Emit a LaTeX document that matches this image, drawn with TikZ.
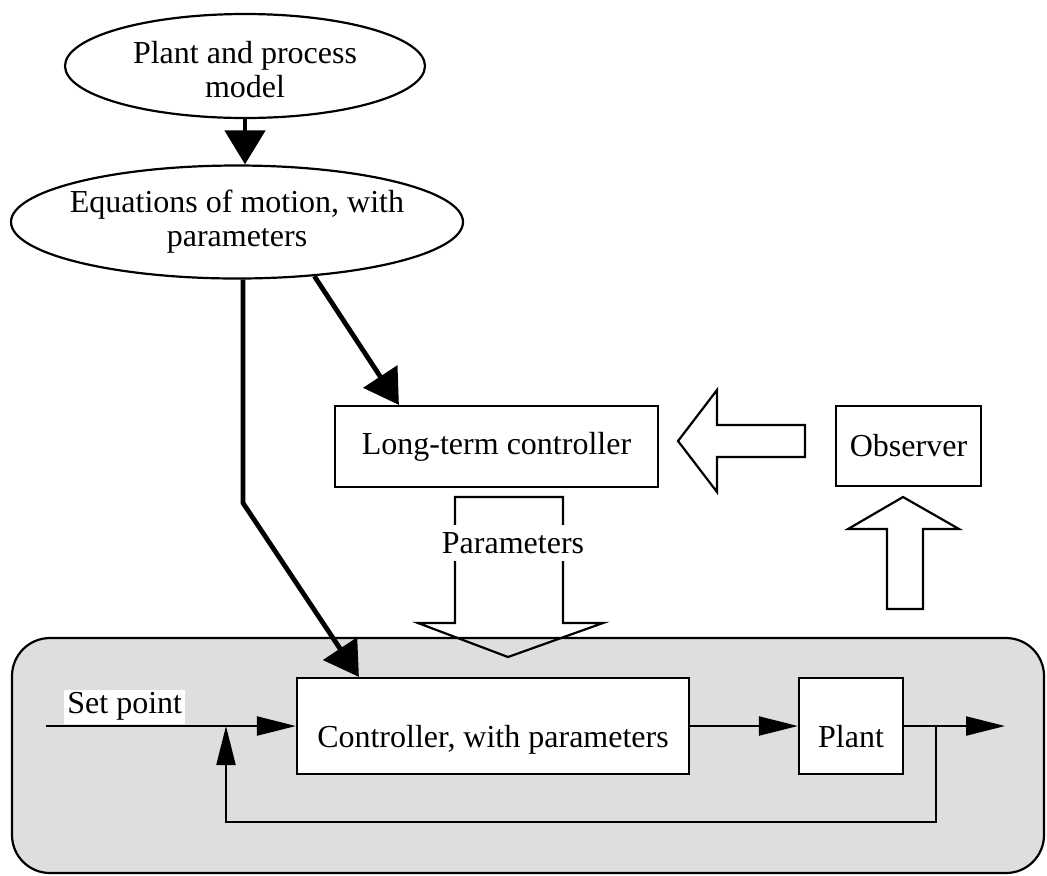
\documentclass[tikz,border=0pt]{standalone}
\usepackage{fontspec}
\setmainfont{Liberation Serif}
\usetikzlibrary{shapes.geometric,arrows.meta}

\definecolor{loopgrey}{HTML}{DEDEDE}

\begin{document}
\begin{tikzpicture}[x=0.5pt,y=-0.5pt,
    font=\fontsize{16}{17}\selectfont,
    block/.style={rectangle, draw, line width=1.1pt, fill=white, inner sep=0pt},
    lowblock/.style={block, text height=24pt, text depth=3pt},
    bubble/.style={ellipse, draw, line width=1.1pt, fill=white, inner sep=0pt},
    heavy/.style={line width=2.4pt, -{Triangle[length=17pt,width=20pt]}},
    signal/.style={line width=1.1pt, -{Triangle[length=19.5pt,width=9.5pt]}},
    hollow/.style={draw, line width=1.1pt, line join=miter}]
    \useasboundingbox (0,0) rectangle (1047,875);

    % Grey loop region
    \draw[fill=loopgrey, line width=1.1pt, rounded corners=19pt] (12,638) rectangle (1044,873);

    % Model ellipses
    \node[bubble, minimum width=180pt, minimum height=52pt,
          label={[align=center, yshift=-2pt]center:Plant and process\\model}] (model) at (245,66) {};
    \node[bubble, minimum width=226pt, minimum height=56.5pt,
          label={[align=center]center:Equations of motion, with\\parameters}] (eqns) at (237,222) {};

    % Boxes
    \node[block, minimum width=161.5pt, minimum height=40.5pt] (lt) at (496.5,446.5) {Long-term controller};
    \node[block, minimum width=72.5pt, minimum height=40pt] (obs) at (908.5,446) {Observer};
    \node[lowblock, minimum width=196pt, minimum height=48pt] (ctrl) at (493,726) {Controller, with parameters};
    \node[lowblock, minimum width=52pt, minimum height=48pt] (plant) at (851,726) {Plant};

    % Hollow arrows
    \draw[hollow] (678,441) -- (717,390) -- (717,425) -- (805,425) -- (805,457) -- (717,457) -- (717,492) -- cycle;
    \draw[hollow] (903,497) -- (959,529) -- (923,529) -- (923,609) -- (887,609) -- (887,529) -- (848,529) -- cycle;
    \draw[hollow] (508,657) -- (418,623) -- (455,623) -- (455,497) -- (563,497) -- (563,623) -- (603,623) -- cycle;
    \node[fill=white, inner sep=3.5pt] (params) at (513,543) {Parameters};

    % Heavy arrows from the model
    \coordinate (knee) at (243,503);
    \draw[heavy] (model.south) -- (model.south |- eqns.north);
    \draw[heavy] (eqns.south -| knee) -- (knee) -- ([xshift=31.5pt]ctrl.north west);
    \draw[heavy] (eqns.-35) -- ([xshift=32.5pt]lt.north west);

    % Control loop
    \coordinate (sp) at (46,726);
    \coordinate (out) at (1005,726);
    \coordinate (tap) at (936,726);
    \coordinate (sum) at (226,726);
    \node[fill=white, inner sep=1.5pt, anchor=south west] (splabel) at (64,724) {Set point};
    \draw[signal] (sp) -- (ctrl.west);
    \draw[signal] (ctrl) -- (plant);
    \draw[signal] (plant) -- (out);
    \draw[signal] (tap) -- ++(0,96) -| (sum);
\end{tikzpicture}
\end{document}
